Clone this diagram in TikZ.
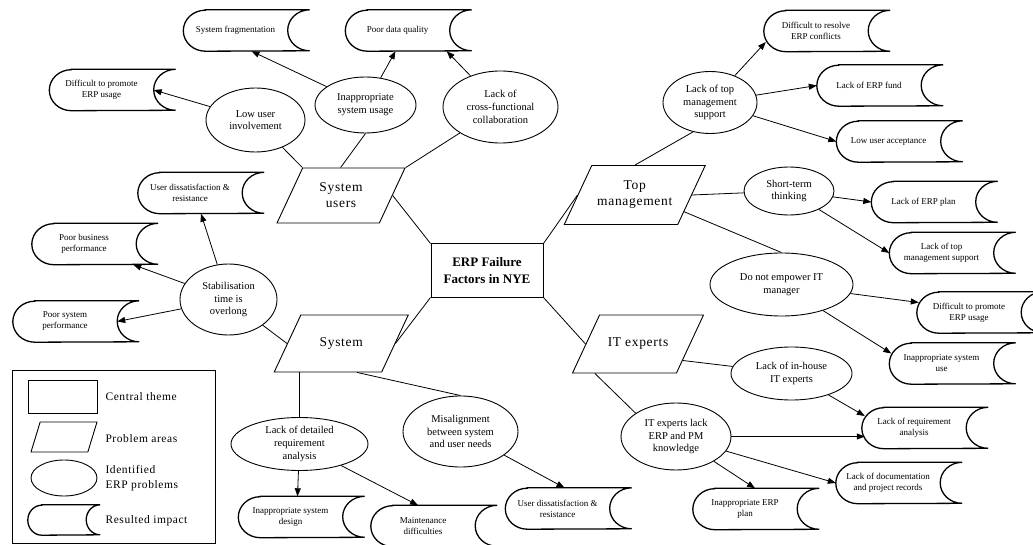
\documentclass[tikz,border=0pt]{standalone}
\usepackage{fontspec}
\setmainfont{Liberation Serif}
\newfontfamily\spfont[LetterSpace=5]{Liberation Serif}
\usetikzlibrary{shapes.geometric,arrows.meta,calc}
\newcommand\fsz[2]{\fontsize{#1}{#2}\selectfont}
\tikzset{
 conn/.style={line width=0.8pt},
 arr/.style={conn, -{Triangle[length=8pt,width=6pt]}},
 central/.style={draw, line width=1pt, rectangle, minimum width=112pt, minimum height=53pt, inner sep=0pt, align=center, font=\fsz{13}{16.5}\bfseries},
 area/.style={draw, line width=0.9pt, trapezium, trapezium left angle=65, trapezium right angle=115, trapezium stretches body, inner sep=0pt},
 atext/.style={align=center, font=\fsz{13.5}{16}\spfont},
 prob/.style 2 args={draw, line width=0.9pt, ellipse, inner sep=0pt, minimum width=#1, minimum height=#2},
 ptext/.style={align=center, font=\fsz{10.5}{12.7}},
 impline/.style={draw, line width=1.3pt},
 impframe/.style 2 args={append after command={\pgfextra{\draw[impline] ([xshift=#1]\tikzlastnode.north west) -- ([xshift=#1]\tikzlastnode.north east) arc[start angle=90,end angle=270,x radius=#1,y radius=#2] -- ([xshift=#1]\tikzlastnode.south west) arc[start angle=270,end angle=90,x radius=#1,y radius=#2] -- cycle;}}},
 impbase/.style={rectangle, inner sep=0pt, align=center, font=\fsz{9}{11}},
 impact/.style={impbase, minimum width=104pt, minimum height=41pt, impframe={22pt}{20.5pt}},
 legtext/.style={anchor=west, align=left, font=\fsz{11.5}{15}\spfont},
}
\begin{document}
\begin{tikzpicture}[x=1pt,y=-1pt]
\useasboundingbox (0,0) rectangle (1033,545);
% central theme
\node[central] (c) at (487,270.5) {ERP Failure\\Factors in NYE};
% problem areas
\node[area, minimum width=128pt, label={[atext]center:System\\users}] (su) at (341,195.5) {\rule{0pt}{55pt}};
\node[area, minimum width=141pt, label={[atext]center:Top\\management}] (tm) at (634.75,195) {\rule{0pt}{59pt}};
\node[area, minimum width=134pt, label={[atext]center:System}] (sys) at (341.25,343.5) {\rule{0pt}{57pt}};
\node[area, minimum width=131pt, label={[atext]center:IT experts}] (itx) at (638,344) {\rule{0pt}{58pt}};
% identified problems
\node[prob={99pt}{64pt}, label={[ptext]center:Low user\\involvement}] (lui) at (255.5,120) {};
\node[prob={101pt}{56pt}, label={[ptext]center:Inappropriate\\system usage}] (ius) at (365.5,105) {};
\node[prob={115pt}{72pt}, label={[ptext]center:Lack of\\cross-functional\\collaboration}] (lcf) at (500.5,107) {};
\node[prob={97pt}{71pt}, label={[ptext]center:Stabilisation\\time is\\overlong}] (sto) at (228.5,299.5) {};
\node[prob={94pt}{62pt}, label={[ptext]center:Lack of top\\management\\support}] (ltm) at (710,102.5) {};
\node[prob={90pt}{48pt}, label={[ptext]center:Short-term\\thinking}] (stt) at (789,191) {};
\node[prob={143pt}{63pt}, label={[ptext]center:Do not empower IT\\manager}] (dne) at (781.5,284.5) {};
\node[prob={121pt}{53pt}, label={[ptext]center:Lack of in-house\\IT experts}] (lih) at (791.5,373.5) {};
\node[prob={110pt}{67pt}, label={[ptext]center:IT experts lack\\ERP and PM\\knowledge}] (ile) at (676,436.5) {};
\node[prob={137pt}{53pt}, label={[ptext]center:Lack of detailed\\requirement\\analysis}] (lda) at (299.5,444) {};
\node[prob={115pt}{71pt}, label={[ptext]center:Misalignment\\between system\\and user needs}] (mis) at (460.5,431.5) {};
% resulted impacts
\node[impact] (sf) at (235.5,30.5) {System fragmentation};
\node[impact] (pdq) at (397.5,30.5) {Poor data quality};
\node[impact] (dtp1) at (101.5,90) {Difficult to promote\\ERP usage};
\node[impact] (drec) at (816,31) {Difficult to resolve\\ERP conflicts};
\node[impact] (lef) at (869,85.5) {Lack of ERP fund};
\node[impact] (lua) at (888.5,141.5) {Low user acceptance};
\node[impact] (uds1) at (190,193) {User dissatisfaction \&\\resistance};
\node[impact] (pbp) at (84,244) {Poor business\\performance};
\node[impact] (psp) at (65,321.5) {Poor system\\performance};
\node[impact] (lep) at (923.5,202) {Lack of ERP plan};
\node[impact] (ltms) at (941.5,253) {Lack of top\\management support};
\node[impact] (dtp2) at (969,312.5) {Difficult to promote\\ERP usage};
\node[impact] (isu) at (941.5,363.5) {Inappropriate system\\use};
\node[impact] (lra) at (914,428) {Lack of requirement\\analysis};
\node[impact] (ldoc) at (888,483) {Lack of documentation\\and project records};
\node[impact] (iep) at (745,509) {Inappropriate ERP\\plan};
\node[impact] (uds2) at (557.5,508.5) {User dissatisfaction \&\\resistance};
\node[impact] (md) at (423,526) {Maintenance\\difficulties};
\node[impact] (isd) at (290.5,517) {Inappropriate system\\design};
% central to areas
\draw[conn] (c.north west) -- (su.east);
\draw[conn] (c.north east) -- (tm.west);
\draw[conn] (c.south west) -- (sys.east);
\draw[conn] (c.south east) -- (itx.west);
% areas to problems
\draw[conn] (su.top left corner) -- (lui);
\draw[conn] ($(su.top left corner)!0.37!(su.top right corner)$) -- (ius.south);
\draw[conn] (su.top right corner) -- (lcf);
\draw[conn] (sys.west) -- (sto);
\draw[conn] ($(tm.top left corner)!0.38!(tm.top right corner)$) -- (ltm.-120);
\draw[conn] (tm.east) -- (stt);
\draw[conn] ($(tm.top right corner)!0.78!(tm.bottom right corner)$) -- (dne.north);
\draw[conn] ($(itx.top right corner)!0.78!(itx.bottom right corner)$) -- (lih);
\draw[conn] ($(itx.bottom left corner)!0.22!(itx.bottom right corner)$) -- (ile.150);
\draw[conn] (lda.north |- sys.south) -- (lda.north);
\draw[conn] ($(sys.bottom left corner)!0.77!(sys.bottom right corner)$) -- (mis.north);
% problems to impacts
\draw[arr] (lui) -- (dtp1.east);
\draw[arr] (ius) -- ([xshift=16pt]sf.south);
\draw[arr] (ius) -- ([xshift=-2pt]pdq.south);
\draw[arr] (lcf) -- ([xshift=-3pt]pdq.south east);
\draw[arr] (ltm) -- ([xshift=2pt,yshift=-11pt]drec.west);
\draw[arr] (ltm) -- (lef.west);
\draw[arr] (ltm) -- (lua.west);
\draw[arr] (stt) -- (lep.west);
\draw[arr] (stt) -- (ltms.west);
\draw[arr] (dne) -- ([xshift=2pt,yshift=10pt]dtp2.west);
\draw[arr] (dne) -- ([xshift=2pt,yshift=10pt]isu.west);
\draw[arr] (lih) -- ([xshift=3pt,yshift=12pt]lra.west);
\draw[arr] (ile.east) -- ($(ile.east -| lra.west)+(3,0)$);
\draw[arr] (ile) -- (ldoc.west);
\draw[arr] (ile) -- ([xshift=10pt]iep.north);
\draw[arr] (mis) -- ([xshift=7pt]uds2.north);
\draw[arr] (lda) -- ([xshift=-5pt]md.north);
\draw[arr] (lda) -- ([xshift=7pt]isd.north);
\draw[arr] (sto) -- ([xshift=11pt]uds1.south);
\draw[arr] (sto) -- ([xshift=-3pt]pbp.south east);
\draw[arr] (sto) -- (psp.east);
% legend
\node[draw, line width=0.9pt, rectangle, minimum width=203pt, minimum height=173pt, inner sep=0pt] (lg) at (113.5,456.5) {};
\node[draw, line width=0.9pt, rectangle, minimum width=69pt, minimum height=33pt, inner sep=0pt] (lrect) at (62.5,396.5) {};
\node[area, trapezium left angle=73, trapezium right angle=107, minimum width=66pt] (lpar) at (64,437) {\rule{0pt}{30pt}};
\node[prob={66pt}{36pt}] (lell) at (64,478) {};
\node[impbase, minimum width=58pt, minimum height=30pt, impframe={14pt}{15pt}] (limp) at (57,520) {};
\node[legtext] (t1) at (102,397) {Central theme};
\node[legtext] (t2) at (102,439) {Problem areas};
\node[legtext] (t3) at (102,478) {Identified\\ERP problems};
\node[legtext] (t4) at (102,521) {Resulted impact};
\end{tikzpicture}
\end{document}
